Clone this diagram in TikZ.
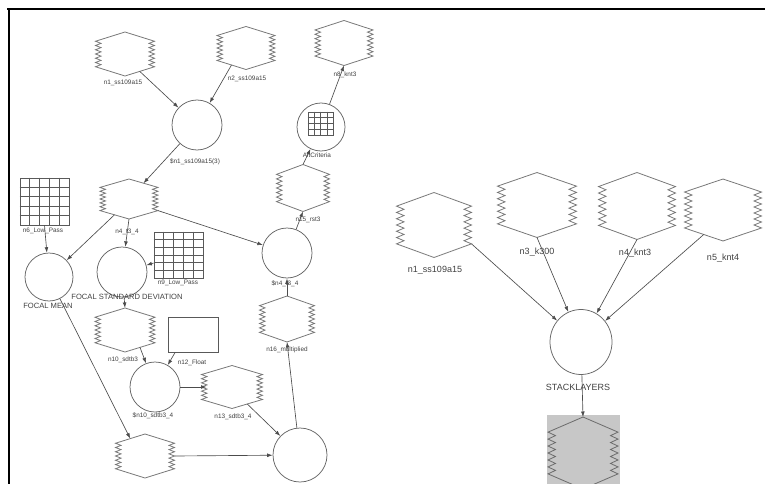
\documentclass[tikz,border=0pt]{standalone}
\usepackage{fontspec}
\setmainfont{Liberation Sans}
\usetikzlibrary{shapes.geometric,arrows.meta,calc}
\definecolor{hexgray}{gray}{0.47}
\definecolor{circgray}{gray}{0.40}
\definecolor{linegray}{gray}{0.30}
\definecolor{txtgray}{gray}{0.25}
\definecolor{gridgray}{gray}{0.35}
\definecolor{boxgray}{gray}{0.78}
\tikzset{
  hexnode/.style={draw=none, rectangle, inner sep=0pt, outer sep=0pt},
  hexline/.style={draw=hexgray, line width=0.8pt, line join=miter},
  circ/.style={draw=circgray, line width=0.75pt, circle, inner sep=0pt},
  ell/.style={draw=circgray, line width=0.75pt, ellipse, inner sep=0pt},
  conn/.style={draw=linegray, line width=0.65pt, -{Latex[length=5.5pt,width=3.8pt]}},
  lblS/.style={font=\fontsize{6.4}{7}\selectfont, text=txtgray, inner sep=0pt},
  lblM/.style={font=\fontsize{7.6}{8}\selectfont, text=txtgray, inner sep=0pt},
  lblL/.style={font=\fontsize{9}{10}\selectfont, text=txtgray, inner sep=0pt},
  gridn/.style={draw=gridgray, line width=0.7pt, rectangle, inner sep=0pt},
  gridline/.style={draw=gridgray, line width=0.7pt},
  framel/.style={draw=black, line width=1.3pt},
}
% name, cx, cy, w, h, amplitude
\newcommand\hexlayer[6]{%
  \pgfmathsetmacro\hxW{#4/2}%
  \pgfmathsetmacro\hxH{#5/2}%
  \pgfmathsetmacro\hxC{0.58*#5/2}%
  \node[hexnode, minimum width=#4pt, minimum height=#5pt] (#1) at (#2,#3) {};
  \coordinate (#1-t) at (#2,{#3-\hxH});
  \coordinate (#1-b) at (#2,{#3+\hxH});
  \coordinate (#1-tl) at ({#2-\hxW/2},{#3-(\hxC+\hxH)/2});
  \coordinate (#1-tr) at ({#2+\hxW/2},{#3-(\hxC+\hxH)/2});
  \coordinate (#1-bl) at ({#2-\hxW/2},{#3+(\hxC+\hxH)/2});
  \coordinate (#1-br) at ({#2+\hxW/2},{#3+(\hxC+\hxH)/2});
  \coordinate (#1-l) at ({#2-\hxW},#3);
  \coordinate (#1-r) at ({#2+\hxW},#3);
  \coordinate (#1-rb) at ({#2+\hxW},{#3+\hxC});
  \draw[hexline] (#1-t) -- ({#2-\hxW},{#3-\hxC})
    \foreach \k in {1,...,12}{ -- ({#2-\hxW+mod(\k,2)*#6},{#3-\hxC+\k*\hxC/6}) }
    -- (#1-b) -- ({#2+\hxW},{#3+\hxC})
    \foreach \k in {1,...,12}{ -- ({#2+\hxW-mod(\k,2)*#6},{#3+\hxC-\k*\hxC/6}) }
    -- cycle;
}
% name, cx, cy, w, h, cols, rows
\newcommand\gridbox[7]{%
  \node[gridn, minimum width=#4pt, minimum height=#5pt] (#1) at (#2,#3) {};
  \pgfmathtruncatemacro\gbc{#6-1}%
  \pgfmathtruncatemacro\gbr{#7-1}%
  \foreach \i in {1,...,\gbc}{\draw[gridline] ($(#1.north west)!\i/#6!(#1.north east)$) -- ($(#1.south west)!\i/#6!(#1.south east)$);}
  \foreach \i in {1,...,\gbr}{\draw[gridline] ($(#1.north west)!\i/#7!(#1.south west)$) -- ($(#1.north east)!\i/#7!(#1.south east)$);}
}
\begin{document}
\begin{tikzpicture}[x=1pt,y=-1pt]
\useasboundingbox (0,0) rectangle (765,484);
\clip (0,0) rectangle (765,484);
% frame
\draw[framel] (7,9) -- (766,9);
\draw[framel] (9,8.4) -- (9,485);

% ---------- left diagram ----------
\hexlayer{H1}{125}{54}{59}{44}{5.5}
\hexlayer{H2}{246}{48}{58}{43}{5.5}
\hexlayer{H8}{344}{43}{58}{45}{5.5}
\node[circ, minimum size=50pt] (C1) at (197,125) {};
\node[circ, minimum size=48pt] (CA) at (321,127) {};
\gridbox{CAg}{320.5}{123.5}{25}{23}{4}{4}
\hexlayer{H15}{303}{188}{53}{47}{5.5}
\hexlayer{H4}{129}{199}{58}{40}{5.5}
\gridbox{G6}{44.5}{201.5}{49}{47}{5}{5}
\node[circ, minimum size=48pt] (FM) at (49,277) {};
\node[circ, minimum size=50pt] (FSD) at (122,272) {};
\gridbox{G9}{178.5}{255}{49}{46}{5}{6}
\node[circ, minimum size=50pt] (C4) at (287,253) {};
\hexlayer{H10}{125}{330}{60}{44}{5.5}
\node[draw=gridgray, line width=0.7pt, rectangle, minimum width=50pt, minimum height=35pt, inner sep=0pt] (R12) at (193,334.5) {};
\node[circ, minimum size=50pt] (C10) at (155,387) {};
\hexlayer{H13}{232}{387}{61}{43}{5.5}
\hexlayer{H16}{287}{319}{55}{46}{5.5}
\hexlayer{HB}{145}{456}{59}{44}{5.5}
\node[circ, minimum size=54pt] (CB) at (300,455) {};

% labels (left)
\node[lblS] (l1) at (123,83) {n1\_ss109a15};
\node[lblS] (l2) at (247,79) {n2\_ss109a15};
\node[lblS] (l8) at (345,75) {n8\_knt3};
\node[lblS] (lc1) at (195,162) {\$n1\_ss109a15(3)};
\node[lblS] (lca) at (317,155) {AltCriteria};
\node[lblS] (l15) at (308,220) {n15\_rst3};
\node[lblS] (l4) at (127,232) {n4\_t3\_4};
\node[lblS] (l6) at (43,231) {n6\_Low\_Pass};
\node[lblS] (l9) at (178,283) {n9\_Low\_Pass};
\node[lblS] (lc4) at (285,284) {\$n4\_t3\_4};
\node[lblM] (lfm) at (48,306) {FOCAL MEAN};
\node[lblM] (lfsd) at (127,297) {FOCAL STANDARD DEVIATION};
\node[lblS] (l10) at (123,360) {n10\_sdtb3};
\node[lblS] (l12) at (192,363) {n12\_Float};
\node[lblS] (lc10) at (153,416) {\$n10\_sdtb3\_4};
\node[lblS] (l13) at (233,417) {n13\_sdtb3\_4};
\node[lblS] (l16) at (287,350) {n16\_multiplied};

% connectors (left)
\draw[conn] (H1-br) -- (C1);
\draw[conn] (H2-bl) -- (C1);
\draw[conn] (CA) -- (H8-b);
\draw[conn] (H15-t) -- (CA);
\draw[conn] (C4) -- (H15-b);
\draw[conn] (C1) -- (H4-tr);
\draw[conn] (H4-rb) -- (C4);
\draw[conn] (H4-bl) -- (FM);
\draw[conn] (H4-b) -- (FSD);
\draw[conn] (G6.south) -- (FM);
\draw[conn] (G9.198) -- (FSD);
\draw[conn] (FSD) -- (H10-t);
\draw[conn] (H10-br) -- (C10);
\draw[conn] (R12.-135) -- (C10);
\draw[conn, shorten >=-5pt] (C10) -- (H13-l);
\draw[conn] (H13-br) -- (CB);
\draw[conn] (FM) -- (HB-tl);
\draw[conn] (HB-r) -- (CB);
\draw[conn] (CB) -- (H16-b);
\draw[conn] (H16-t) -- (C4);

% ---------- right diagram ----------
\hexlayer{RH1}{434}{225}{75}{65}{7.5}
\hexlayer{RH3}{537}{205}{79}{65}{7.5}
\hexlayer{RH4}{637}{206}{77}{67}{7.5}
\hexlayer{RH5}{723}{210}{77}{62}{7.5}
\node[ell, minimum width=62pt, minimum height=65pt] (ST) at (581,342) {};
\node[rectangle, fill=boxgray, draw=none, minimum width=73pt, minimum height=75pt, inner sep=0pt] (OUT) at (583.5,452.5) {};
\begin{scope}[hexline/.append style={fill=boxgray, draw=gray!85!black}]
\hexlayer{OH}{583}{453}{70}{72}{7.5}
\end{scope}
\node[lblL] (r1) at (435,270) {n1\_ss109a15};
\node[lblL] (r3) at (537,252) {n3\_k300};
\node[lblL] (r4) at (635,253) {n4\_knt3};
\node[lblL] (r5) at (723,258) {n5\_knt4};
\node[lblL] (rst) at (578,387) {STACKLAYERS};
\draw[conn] (RH1-rb) -- (ST);
\draw[conn] (RH3-b) -- (ST);
\draw[conn] (RH4-b) -- (ST);
\draw[conn] (RH5-bl) -- (ST);
\draw[conn] (ST) -- (OH-t);
\end{tikzpicture}
\end{document}
